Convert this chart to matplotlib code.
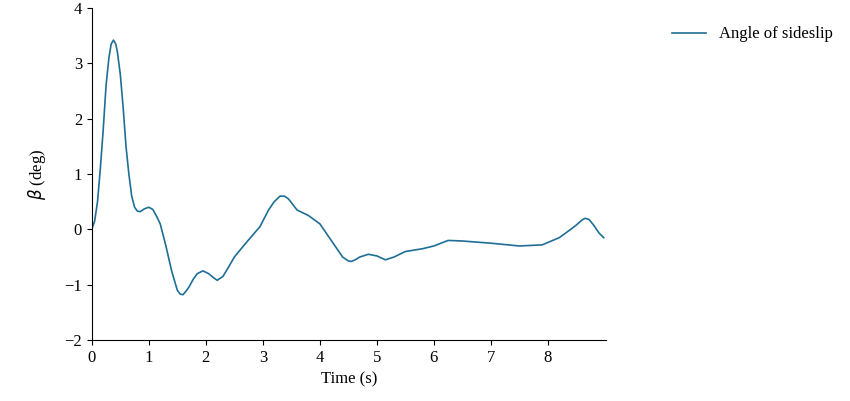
import matplotlib
matplotlib.use("Agg")
import matplotlib.pyplot as plt

t = [0, 0.05, 0.1, 0.15, 0.2, 0.25, 0.3, 0.34, 0.38, 0.42, 0.45, 0.5, 0.55, 0.6, 0.65, 0.7, 0.75, 0.8, 0.85, 0.92, 1.0, 1.07, 1.13, 1.2, 1.3, 1.4, 1.5, 1.55, 1.6, 1.65, 1.7, 1.78, 1.85, 1.95,
     2.05, 2.13, 2.2, 2.3, 2.4, 2.5, 2.7, 2.95, 3.1, 3.2, 3.3, 3.38, 3.45, 3.6, 3.8, 4.0, 4.1, 4.2, 4.3, 4.4, 4.5, 4.55, 4.62, 4.7, 4.85, 5.0, 5.15, 5.3,
     5.5, 5.8, 6.0, 6.25, 6.5, 7.0, 7.5, 7.9, 8.2, 8.4, 8.5, 8.6, 8.65, 8.72, 8.8, 8.9, 8.98]
beta = [0, 0.15, 0.5, 1.1, 1.8, 2.6, 3.1, 3.35, 3.42, 3.35, 3.2, 2.8, 2.2, 1.5, 1.0, 0.6, 0.4, 0.33, 0.32, 0.37, 0.4, 0.36, 0.25, 0.1, -0.3, -0.75, -1.1, -1.17, -1.18, -1.12, -1.05, -0.9, -0.8, -0.75,
        -0.8, -0.87, -0.92, -0.85, -0.68, -0.5, -0.25, 0.05, 0.35, 0.5, 0.6, 0.6, 0.55, 0.35, 0.25, 0.1, -0.05, -0.2, -0.35, -0.5, -0.57, -0.58, -0.55, -0.5, -0.45, -0.48, -0.55, -0.5,
        -0.4, -0.35, -0.3, -0.2, -0.21, -0.25, -0.3, -0.28, -0.15, 0.0, 0.08, 0.17, 0.2, 0.18, 0.08, -0.07, -0.15]
xticks = [0, 1, 2, 3, 4, 5, 6, 7, 8]
yticks = [-2, -1, 0, 1, 2, 3, 4]

plt.rcParams['font.family'] = ['Liberation Serif', 'DejaVu Serif']
plt.rcParams['font.size'] = 12
fig = plt.figure(figsize=(8.5, 4.01), dpi=100)
ax = fig.add_axes([0.108, 0.152, 0.605, 0.828])
ax.plot(t, beta, color='#1f6e96', lw=1.2, label='Angle of sideslip')
ax.set_xlim(0, 9.02)
ax.set_ylim(-2, 4)
ax.set_xticks(xticks)
ax.set_yticks(yticks)
ax.set_yticklabels(['\u22122', '\u22121', '0', '1', '2', '3', '4'])
ax.spines['top'].set_visible(False)
ax.spines['right'].set_visible(False)
ax.set_xlabel('Time (s)')
ax.set_ylabel(r'$\beta$ (deg)', labelpad=12)
ax.legend(loc='upper left', bbox_to_anchor=(1.1, 0.99), frameon=False)
fig.savefig('out.png', dpi=100)
